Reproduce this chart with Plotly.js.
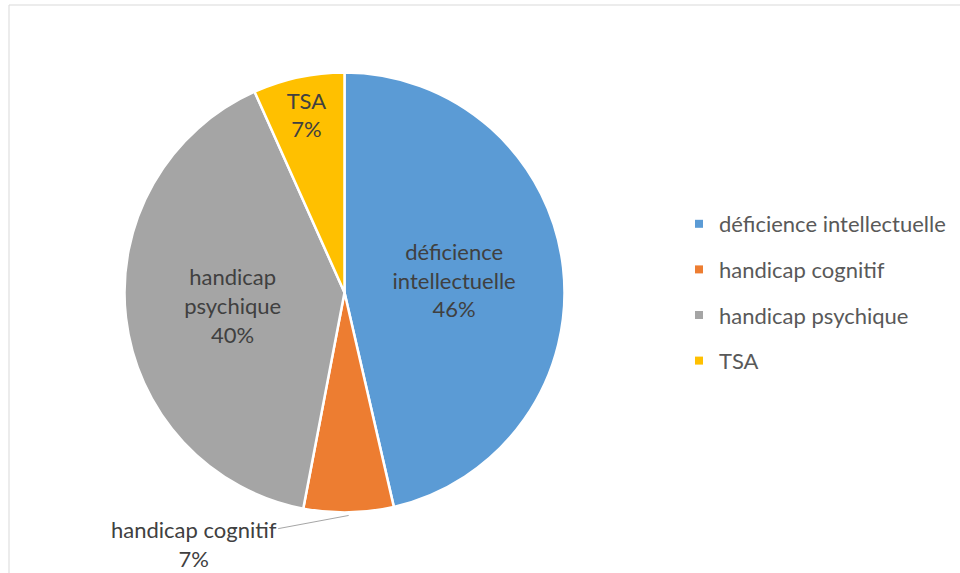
<!DOCTYPE html>
<html>
<head>
<meta charset="utf-8">
<script src="https://cdn.plot.ly/plotly-3.0.1.min.js"></script>
<style>html,body{margin:0;padding:0;background:#fff;}#chart{width:960px;height:573px;}</style>
</head>
<body>
<div id="chart"></div>
<script>
const categories = ['déficience intellectuelle', 'handicap cognitif', 'handicap psychique', 'TSA'];
const values = [46.4, 6.6, 40.3, 6.7];
const colors = ['#5B9BD5', '#ED7D31', '#A5A5A5', '#FFC000'];

const W = 960, H = 573;
const FONT = 'Lato, "Liberation Sans", sans-serif';
const cxPx = 344.5, cyPx = 292.5, rPx = 220;
const dom = {
  x: [(cxPx - rPx) / W, (cxPx + rPx) / W],
  y: [1 - (cyPx + rPx) / H, 1 - (cyPx - rPx) / H]
};

const total = values.reduce((a, b) => a + b, 0);
const wrapped = categories.map(c => c.replace(' ', '<br>'));
const outsideIdx = 1;

const pie = {
  type: 'pie',
  labels: categories,
  values: values,
  text: wrapped,
  sort: false,
  direction: 'clockwise',
  rotation: 0,
  domain: dom,
  marker: { colors: colors, line: { color: '#FFFFFF', width: 2.5 } },
  texttemplate: '%{text}<br>%{percent:.0%}',
  textposition: categories.map((c, i) => i === outsideIdx ? 'none' : 'inside'),
  insidetextorientation: 'horizontal',
  textfont: { family: FONT, size: 22, color: '#404040' },
  hoverinfo: 'label+percent',
  showlegend: false
};

const legendTraces = categories.map((c, i) => ({
  type: 'scatter', mode: 'markers', x: [null], y: [null],
  name: c, legendgroup: 'g' + i,
  marker: { symbol: 'square', size: 8, color: colors[i] },
  hoverinfo: 'skip'
}));

// leader-line annotation for the small bottom slice, tip computed from the data
let cum = 0;
for (let i = 0; i < outsideIdx; i++) cum += values[i];
const midFrac = (cum + values[outsideIdx] / 2) / total;
const theta = midFrac * 2 * Math.PI;
const tipX = cxPx + rPx * Math.sin(theta);
const tipY = cyPx - rPx * Math.cos(theta) + 3;
const pct = Math.round(values[outsideIdx] / total * 100);

const layout = {
  width: W, height: H,
  margin: { l: 0, r: 0, t: 0, b: 0 },
  paper_bgcolor: '#FFFFFF', plot_bgcolor: '#FFFFFF',
  xaxis: { visible: false }, yaxis: { visible: false },
  showlegend: true,
  legend: {
    x: 679 / W, y: 1 - 203 / H, xanchor: 'left', yanchor: 'top',
    font: { family: FONT, size: 22, color: '#595959' },
    tracegroupgap: 14, itemwidth: 30,
    bgcolor: 'rgba(0,0,0,0)'
  },
  shapes: [{
    type: 'rect', xref: 'paper', yref: 'paper',
    x0: 9 / W, x1: 1.05, y0: -0.05, y1: 1 - 5 / H,
    line: { color: '#D9D9D9', width: 1 }, fillcolor: 'rgba(0,0,0,0)', layer: 'below'
  }],
  annotations: [{
    xref: 'paper', yref: 'paper',
    x: tipX / W, y: 1 - tipY / H,
    ax: -155, ay: 29,
    text: categories[outsideIdx] + '<br>' + pct + '%',
    showarrow: true, arrowhead: 0, arrowwidth: 1, arrowcolor: '#A6A6A6', standoff: 0,
    font: { family: FONT, size: 22, color: '#404040' },
    align: 'center'
  }]
};

Plotly.newPlot('chart', [pie].concat(legendTraces), layout, { displayModeBar: false, staticPlot: true });
</script>
</body>
</html>
